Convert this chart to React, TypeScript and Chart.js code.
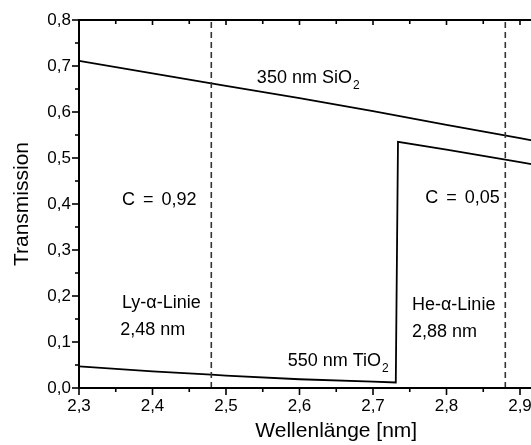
import { useEffect, useRef } from "react";
import { Chart, registerables } from "chart.js";

Chart.register(...registerables);

// Data
const sio2Wavelength = [2.3, 2.4, 2.5, 2.6, 2.7, 2.8, 2.9, 3.0];
const sio2Transmission = [0.711, 0.684, 0.657, 0.63, 0.602, 0.572, 0.543, 0.513];

const tio2Wavelength = [2.3, 2.4, 2.48, 2.5, 2.6, 2.7, 2.731, 2.734, 2.8, 2.9, 3.0];
const tio2Transmission = [0.047, 0.036, 0.029, 0.027, 0.019, 0.014, 0.012, 0.535, 0.518, 0.491, 0.463];

const lineWavelengths = [2.48, 2.88];

const xTickValues = [2.3, 2.4, 2.5, 2.6, 2.7, 2.8, 2.9, 3.0];
const yTickValues = [0, 0.1, 0.2, 0.3, 0.4, 0.5, 0.6, 0.7, 0.8];

const xTitle = "Wellenlänge [nm]";
const yTitle = "Transmission";

const annotations = [
  { text: "350 nm SiO", sub: "2", x: 2.542, y: 0.674, ws: 0 },
  { text: "C = 0,92", sub: "", x: 2.3585, y: 0.409, ws: 3 },
  { text: "C = 0,05", sub: "", x: 2.771, y: 0.413, ws: 3 },
  { text: "Ly-α-Linie", sub: "", x: 2.3585, y: 0.185, ws: 0 },
  { text: "2,48 nm", sub: "", x: 2.356, y: 0.126, ws: 0 },
  { text: "550 nm TiO", sub: "2", x: 2.584, y: 0.059, ws: 0 },
  { text: "He-α-Linie", sub: "", x: 2.753, y: 0.18, ws: 0 },
  { text: "2,88 nm", sub: "", x: 2.753, y: 0.122, ws: 0 },
];

const FONT = '"Liberation Sans", Arial, Helvetica, sans-serif';
const fmt = (v: number) => v.toFixed(1).replace(".", ",");
const mids = (arr: number[]) => arr.slice(0, -1).map((v, i) => (v + arr[i + 1]) / 2);

const framePlugin = {
  id: "originFrame",
  afterDraw(chart: any) {
    const ctx = chart.ctx as any;
    const xs = chart.scales.x;
    const ys = chart.scales.y;
    const a = chart.chartArea;
    ctx.save();
    ctx.strokeStyle = "#000";
    ctx.fillStyle = "#000";
    ctx.lineWidth = 2;
    ctx.strokeRect(a.left, a.top, a.right - a.left, a.bottom - a.top);

    ctx.lineWidth = 1.6;
    const line = (x1: number, y1: number, x2: number, y2: number) => {
      ctx.beginPath();
      ctx.moveTo(x1, y1);
      ctx.lineTo(x2, y2);
      ctx.stroke();
    };
    // y ticks
    ctx.font = `17px ${FONT}`;
    ctx.textAlign = "right";
    ctx.textBaseline = "middle";
    yTickValues.forEach((v) => {
      const p = ys.getPixelForValue(v);
      line(a.left - 7, p, a.left, p);
      line(a.right, p, a.right - 5, p);
      ctx.fillText(fmt(v), a.left - 8, p);
    });
    mids(yTickValues).forEach((v) => {
      const p = ys.getPixelForValue(v);
      line(a.left - 4, p, a.left, p);
      line(a.right, p, a.right - 3, p);
    });
    // x ticks
    ctx.textAlign = "center";
    xTickValues.forEach((v) => {
      const p = xs.getPixelForValue(v);
      line(p, a.bottom, p, a.bottom + 7);
      line(p, a.top, p, a.top + 5);
      ctx.fillText(fmt(v), p, a.bottom + 18);
    });
    mids(xTickValues).forEach((v) => {
      const p = xs.getPixelForValue(v);
      line(p, a.bottom, p, a.bottom + 4);
      line(p, a.top, p, a.top + 4);
    });
    // titles
    ctx.font = `21px ${FONT}`;
    ctx.textAlign = "center";
    ctx.textBaseline = "alphabetic";
    ctx.fillText(xTitle, (a.left + a.right) / 2, a.bottom + 49);
    ctx.save();
    ctx.translate(22, (a.top + a.bottom) / 2);
    ctx.rotate(-Math.PI / 2);
    ctx.textBaseline = "middle";
    ctx.fillText(yTitle, 0, 0);
    ctx.restore();
    // annotations
    annotations.forEach((an) => {
      const px = xs.getPixelForValue(an.x);
      const py = ys.getPixelForValue(an.y);
      ctx.font = `18px ${FONT}`;
      ctx.textAlign = "left";
      ctx.textBaseline = "middle";
      ctx.wordSpacing = `${an.ws}px`;
      ctx.fillText(an.text, px, py);
      if (an.sub) {
        const w = ctx.measureText(an.text).width;
        ctx.font = `12px ${FONT}`;
        ctx.fillText(an.sub, px + w + 1, py + 8);
      }
      ctx.wordSpacing = "0px";
    });
    ctx.restore();
  },
};

export default function App() {
  const ref = useRef<HTMLCanvasElement | null>(null);
  useEffect(() => {
    if (!ref.current) return;
    const datasets: any[] = [
      ...lineWavelengths.map((w) => ({
        data: [
          { x: w, y: yTickValues[0] },
          { x: w, y: yTickValues[yTickValues.length - 1] },
        ],
        borderColor: "#333",
        borderWidth: 1.6,
        borderDash: [6, 4],
        showLine: true,
        pointRadius: 0,
      })),
      {
        data: sio2Wavelength.map((x, i) => ({ x, y: sio2Transmission[i] })),
        borderColor: "#000",
        borderWidth: 1.8,
        showLine: true,
        pointRadius: 0,
      },
      {
        data: tio2Wavelength.map((x, i) => ({ x, y: tio2Transmission[i] })),
        borderColor: "#000",
        borderWidth: 1.8,
        showLine: true,
        pointRadius: 0,
      },
    ];
    const chart = new Chart(ref.current, {
      type: "scatter",
      data: { datasets },
      options: {
        animation: false,
        responsive: false,
        devicePixelRatio: 1,
        layout: { padding: { left: 79, top: 20, right: 6.5, bottom: 57 } },
        plugins: { legend: { display: false }, tooltip: { enabled: false } },
        scales: {
          x: { type: "linear", display: false, min: 2.3, max: 3.0 },
          y: { type: "linear", display: false, min: 0, max: 0.8 },
        },
      },
      plugins: [framePlugin],
    });
    return () => chart.destroy();
  }, []);
  return (
    <div
      style={{
        position: "fixed",
        left: 0,
        top: 0,
        width: 531,
        height: 445,
        overflow: "hidden",
        background: "#fff",
      }}
    >
      <canvas ref={ref} width={600} height={445} style={{ display: "block" }} />
    </div>
  );
}
